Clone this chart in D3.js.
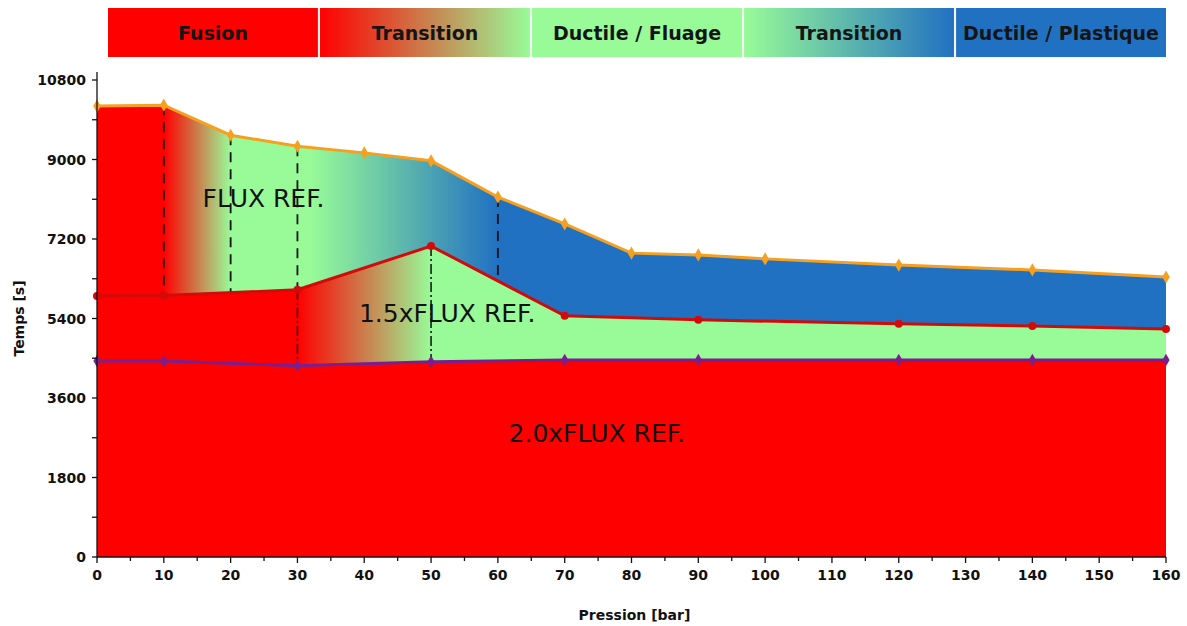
<!DOCTYPE html>
<html><head><meta charset="utf-8">
<script src="https://cdn.jsdelivr.net/npm/d3@7/dist/d3.min.js"></script>
<style>body{margin:0;background:#fff;} svg{display:block;font-family:"DejaVu Sans",sans-serif;}</style>
</head><body><svg id="c" width="1187" height="626"></svg>
<script>
// ---- data ----
const pressureRef = [0,10,20,30,40,50,60,70,80,90,100,120,140,160];
const tempsRef    = [10210,10230,9550,9300,9150,8970,8150,7540,6880,6840,6750,6610,6500,6340];
const pressure15  = [0,10,30,50,70,90,120,140,160];
const temps15     = [5910,5920,6050,7040,5460,5370,5280,5230,5160];
const pressure20  = [0,10,30,50,70,90,120,140,160];
const temps20     = [4440,4440,4330,4420,4460,4460,4460,4460,4460];
const dashedAt    = [10,20,30,60];   // boundaries within FLUX REF band
const dashDotAt   = [30,50];         // boundaries within 1.5x band
const zones       = ["Fusion","Transition","Ductile / Fluage","Transition ","Ductile / Plastique"];
const xTicks      = [0,10,20,30,40,50,60,70,80,90,100,110,120,130,140,150,160];
const yTicks      = [0,1800,3600,5400,7200,9000,10800];
const labels      = [{t:"FLUX REF.",p:15.8,v:7930},{t:"1.5xFLUX REF.",p:39.2,v:5330},{t:"2.0xFLUX REF.",p:61.6,v:2600}];

const RED="#ff0000", GREEN="#98fb98", BLUE="#2171c2";
const svg=d3.select("#c");
const L=97,R=1166,T=80,B=557;
const x=d3.scaleLinear().domain([0,160]).range([L,R]);
const y=d3.scaleLinear().domain([0,10800]).range([B,T]);
const defs=svg.append("defs");
function grad(id,x1,x2,stops){
  const g=defs.append("linearGradient").attr("id",id).attr("gradientUnits","userSpaceOnUse")
    .attr("x1",x1).attr("x2",x2).attr("y1",0).attr("y2",0);
  stops.forEach(s=>g.append("stop").attr("offset",s[0]).attr("stop-color",s[1]));
}
function gradP(id,stops){grad(id,x(0),x(160),stops.map(s=>[(x(s[0])-x(0))/(x(160)-x(0)),s[1]]));}
gradP("gRef",[[0,RED],[10,RED],[20,GREEN],[32,GREEN],[60,BLUE],[160,BLUE]]);
gradP("g15",[[0,RED],[30,RED],[50,GREEN],[160,GREEN]]);

// legend band
const band=d3.scaleBand().domain(zones).range([108,1166]).paddingInner(0.01);
const legendFill=[RED,"url(#lg1)",GREEN,"url(#lg2)",BLUE];
grad("lg1",band(zones[1]),band(zones[1])+band.bandwidth(),[[0,RED],[1,GREEN]]);
grad("lg2",band(zones[3]),band(zones[3])+band.bandwidth(),[[0,GREEN],[1,BLUE]]);
svg.append("rect").attr("x",108).attr("y",8).attr("width",1058).attr("height",49).attr("fill","#f4f4f4");
zones.forEach((z,i)=>{
  svg.append("rect").attr("x",band(z)).attr("y",8).attr("width",band.bandwidth()).attr("height",49).attr("fill",legendFill[i]);
  svg.append("text").attr("x",band(z)+band.bandwidth()/2).attr("y",40).attr("text-anchor","middle")
    .attr("font-size",19).attr("font-weight","bold").attr("fill","#151515").text(z.trim());
});

// areas
const refPts=pressureRef.map((p,i)=>[p,tempsRef[i]]);
const p15=pressure15.map((p,i)=>[p,temps15[i]]);
const p20=pressure20.map((p,i)=>[p,temps20[i]]);
const area=d3.area().x(d=>x(d[0])).y0(y(0)).y1(d=>y(d[1]));
const line=d3.line().x(d=>x(d[0])).y(d=>y(d[1]));
svg.append("path").attr("d",area(refPts)).attr("fill","url(#gRef)");
svg.append("path").attr("d",area(p15)).attr("fill","url(#g15)");
svg.append("path").attr("d",area(p20)).attr("fill",RED);

// vertical boundary lines
function interp(pts,p){for(let i=0;i<pts.length-1;i++){if(p>=pts[i][0]&&p<=pts[i+1][0]){const t=(p-pts[i][0])/(pts[i+1][0]-pts[i][0]);return pts[i][1]+t*(pts[i+1][1]-pts[i][1]);}}return pts[pts.length-1][1];}
dashedAt.forEach(p=>{
  svg.append("line").attr("x1",x(p)).attr("x2",x(p)).attr("y1",y(interp(refPts,p))).attr("y2",y(interp(p15,p)))
    .attr("stroke","#111").attr("stroke-width",1.8).attr("stroke-dasharray","10,7");
});
dashDotAt.forEach(p=>{
  svg.append("line").attr("x1",x(p)).attr("x2",x(p)).attr("y1",y(interp(p15,p))).attr("y2",y(interp(p20,p)))
    .attr("stroke","#111").attr("stroke-width",1.5).attr("stroke-dasharray","10,3,2,3");
});

// lines and markers
function series(pts,color,w,sym,size){
  svg.append("path").attr("d",line(pts)).attr("fill","none").attr("stroke",color).attr("stroke-width",w);
  svg.selectAll(null).data(pts).enter().append("path")
    .attr("transform",d=>`translate(${x(d[0])},${y(d[1])})`)
    .attr("d",d3.symbol().type(sym).size(size)()).attr("fill",color);
}
series(refPts,"#f5a020",3,d3.symbolDiamond,50);
series(p15,"#d20a0a",3,d3.symbolCircle,50);
series(p20,"#7b1f8e",3,d3.symbolDiamond,45);

// labels
labels.forEach(l=>svg.append("text").attr("x",x(l.p)).attr("y",y(l.v)).attr("font-size",25).attr("fill","#111").text(l.t));

// axes
const ax=svg.append("g").attr("stroke","#111").attr("stroke-width",1.3);
ax.append("line").attr("x1",L).attr("x2",L).attr("y1",T-8).attr("y2",B);
ax.append("line").attr("x1",L).attr("x2",R).attr("y1",B).attr("y2",B);
d3.range(0,10801,900).forEach(v=>ax.append("line").attr("x1",L-5).attr("x2",L).attr("y1",y(v)).attr("y2",y(v)));
d3.range(0,161,5).forEach(v=>ax.append("line").attr("x1",x(v)).attr("x2",x(v)).attr("y1",B).attr("y2",B+(v%10?4:6)));
yTicks.forEach(v=>svg.append("text").attr("x",L-11).attr("y",y(v)+5).attr("text-anchor","end")
  .attr("font-size",14).attr("font-weight","bold").attr("fill","#111").text(v));
xTicks.forEach(v=>svg.append("text").attr("x",x(v)).attr("y",B+23).attr("text-anchor","middle")
  .attr("font-size",14).attr("font-weight","bold").attr("fill","#111").text(v));
svg.append("text").attr("x",(L+R)/2+3).attr("y",620).attr("text-anchor","middle").attr("font-size",14).attr("font-weight","bold").attr("fill","#111").text("Pression [bar]");
svg.append("text").attr("transform",`translate(24,${(T+B)/2}) rotate(-90)`).attr("text-anchor","middle").attr("font-size",14).attr("font-weight","bold").attr("fill","#111").text("Temps [s]");
</script></body></html>
